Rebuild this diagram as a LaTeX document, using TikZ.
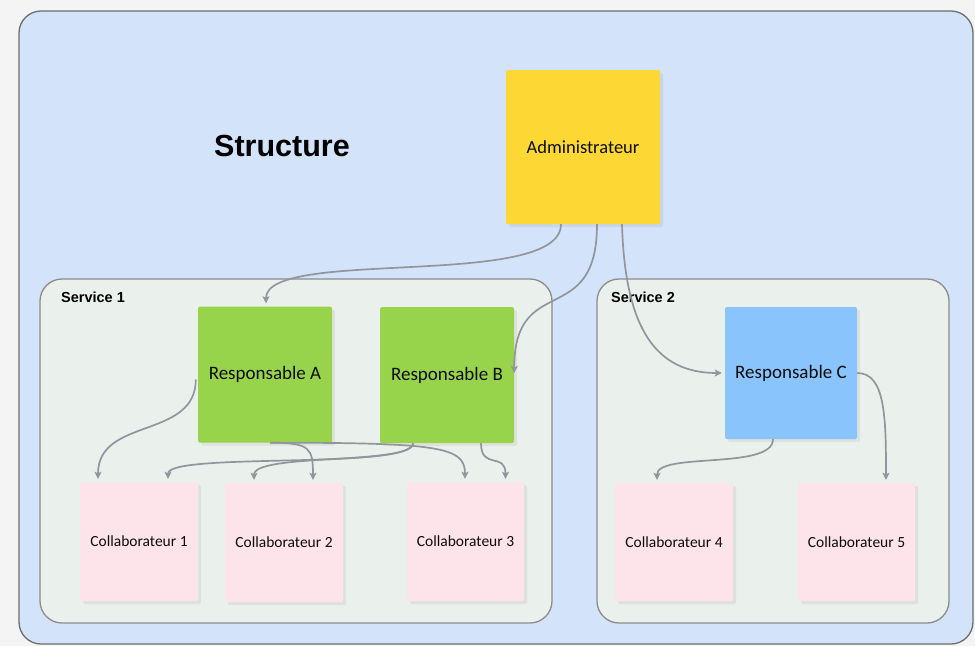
\documentclass[tikz,border=0pt]{standalone}
\usepackage{fontspec}
\setmainfont{Carlito}
\newfontfamily\headfont{Liberation Sans}
\usetikzlibrary{arrows.meta,shadows}
\definecolor{pagegray}{HTML}{F4F4F4}
\definecolor{outerblue}{HTML}{D3E3FA}
\definecolor{outerline}{HTML}{6E6E6E}
\definecolor{servicefill}{HTML}{EAF0EC}
\definecolor{serviceline}{HTML}{8C8C8C}
\definecolor{adminyellow}{HTML}{FDD835}
\definecolor{respgreen}{HTML}{98D44B}
\definecolor{respblue}{HTML}{89C4FD}
\definecolor{collabpink}{HTML}{FDE4EA}
\definecolor{linkgray}{HTML}{92959B}
\definecolor{inktext}{HTML}{0D0D0D}

\begin{document}
\begin{tikzpicture}[x=1pt,y=-1pt,
    panel/.style={line width=1.3pt,rounded corners=22pt},
    main node/.style={rectangle,inner sep=0pt,text=inktext,rounded corners=1.5pt,
        drop shadow={shadow xshift=3pt,shadow yshift=-3pt,opacity=0.12}},
    admin node/.style={main node,fill=adminyellow,minimum width=154pt,minimum height=154pt,font=\fontsize{18.5}{22}\selectfont},
    resp node/.style={main node,minimum width=134pt,minimum height=136pt,font=\fontsize{19}{22}\selectfont},
    collab node/.style={main node,fill=collabpink,minimum width=118pt,minimum height=119pt,font=\fontsize{15.5}{18}\selectfont},
    link/.style={draw=linkgray,line width=1.7pt,-{Stealth[length=7pt,width=7pt,inset=1.5pt]}}]
    \useasboundingbox (0,0) rectangle (975,646);
    \fill[pagegray] (0,0) rectangle (975,646);

    % panels
    \draw[panel,draw=outerline,fill=outerblue] (19,11) rectangle (973,644);
    \draw[panel,draw=serviceline,fill=servicefill] (40,279) rectangle (552,623);
    \draw[panel,draw=serviceline,fill=servicefill] (597,279) rectangle (949,623);

    \node[font=\headfont\bfseries\fontsize{30.5}{34}\selectfont,text=black] at (282,146) (title) {Structure};
    \node[anchor=west,inner sep=0pt,font=\headfont\bfseries\fontsize{14.5}{16}\selectfont,text=black] at (61,297) (s1) {Service 1};
    \node[anchor=west,inner sep=0pt,font=\headfont\bfseries\fontsize{14.5}{16}\selectfont,text=black] at (611,297) (s2) {Service 2};

    % boxes
    \node[admin node] at (583,147) (admin) {Administrateur};
    \node[resp node,fill=respgreen] at (265,374.5) (ra) {Responsable A};
    \node[resp node,fill=respgreen] at (447,375) (rb) {Responsable B};
    \node[resp node,fill=respblue,minimum width=132pt,minimum height=132pt] at (791,373) (rc) {Responsable C};
    \node[collab node] at (139,541.5) (c1) {Collaborateur 1};
    \node[collab node] at (284,542.5) (c2) {Collaborateur 2};
    \node[collab node,minimum width=117pt] at (465.5,541.5) (c3) {Collaborateur 3};
    \node[collab node,minimum height=118pt] at (674,542) (c4) {Collaborateur 4};
    \node[collab node,minimum width=117pt,minimum height=118pt] at (856.5,542) (c5) {Collaborateur 5};

    % links
    \draw[link] ([xshift=-22pt]admin.south) .. controls +(0,66) and +(0,-56) .. ([xshift=1pt,yshift=3pt]ra.north);
    \draw[link] ([xshift=14pt]admin.south) .. controls +(0,106) and +(0,-102) .. ([yshift=2pt]rb.east);
    \draw[link] ([xshift=39pt]admin.south) .. controls +(3,106) and +(-65,0) .. ([xshift=-3pt]rc.west);
    \draw[link] ([xshift=-2pt,yshift=-5pt]ra.west) .. controls +(0,60) and +(0,-62) .. ([xshift=-41pt,yshift=3pt]c1.north);
    \draw[link] ([xshift=5pt]ra.south) .. controls +(40,0) and +(0,-32) .. ([xshift=29pt,yshift=3pt]c2.north);
    \draw[link] ([xshift=5pt]ra.south) .. controls +(170,0) and +(0,-32) .. ([xshift=-0.5pt,yshift=3pt]c3.north);
    \draw[link] ([xshift=-34pt]rb.south) .. controls +(0,27) and +(0,-27) .. ([xshift=29pt,yshift=3pt]c1.north);
    \draw[link] ([xshift=-34pt]rb.south) .. controls +(0,22) and +(0,-27) .. ([xshift=-30pt,yshift=3pt]c2.north);
    \draw[link] ([xshift=34pt]rb.south) .. controls +(0,27) and +(0,-27) .. ([xshift=40pt,yshift=3pt]c3.north);
    \draw[link] ([xshift=-18pt]rc.south) .. controls +(0,31) and +(0,-28) .. ([xshift=-17pt,yshift=3pt]c4.north);
    \draw[link] (rc.east) .. controls +(28,0) and +(0,-63) .. ([xshift=29.5pt,yshift=3pt]c5.north);
\end{tikzpicture}
\end{document}
